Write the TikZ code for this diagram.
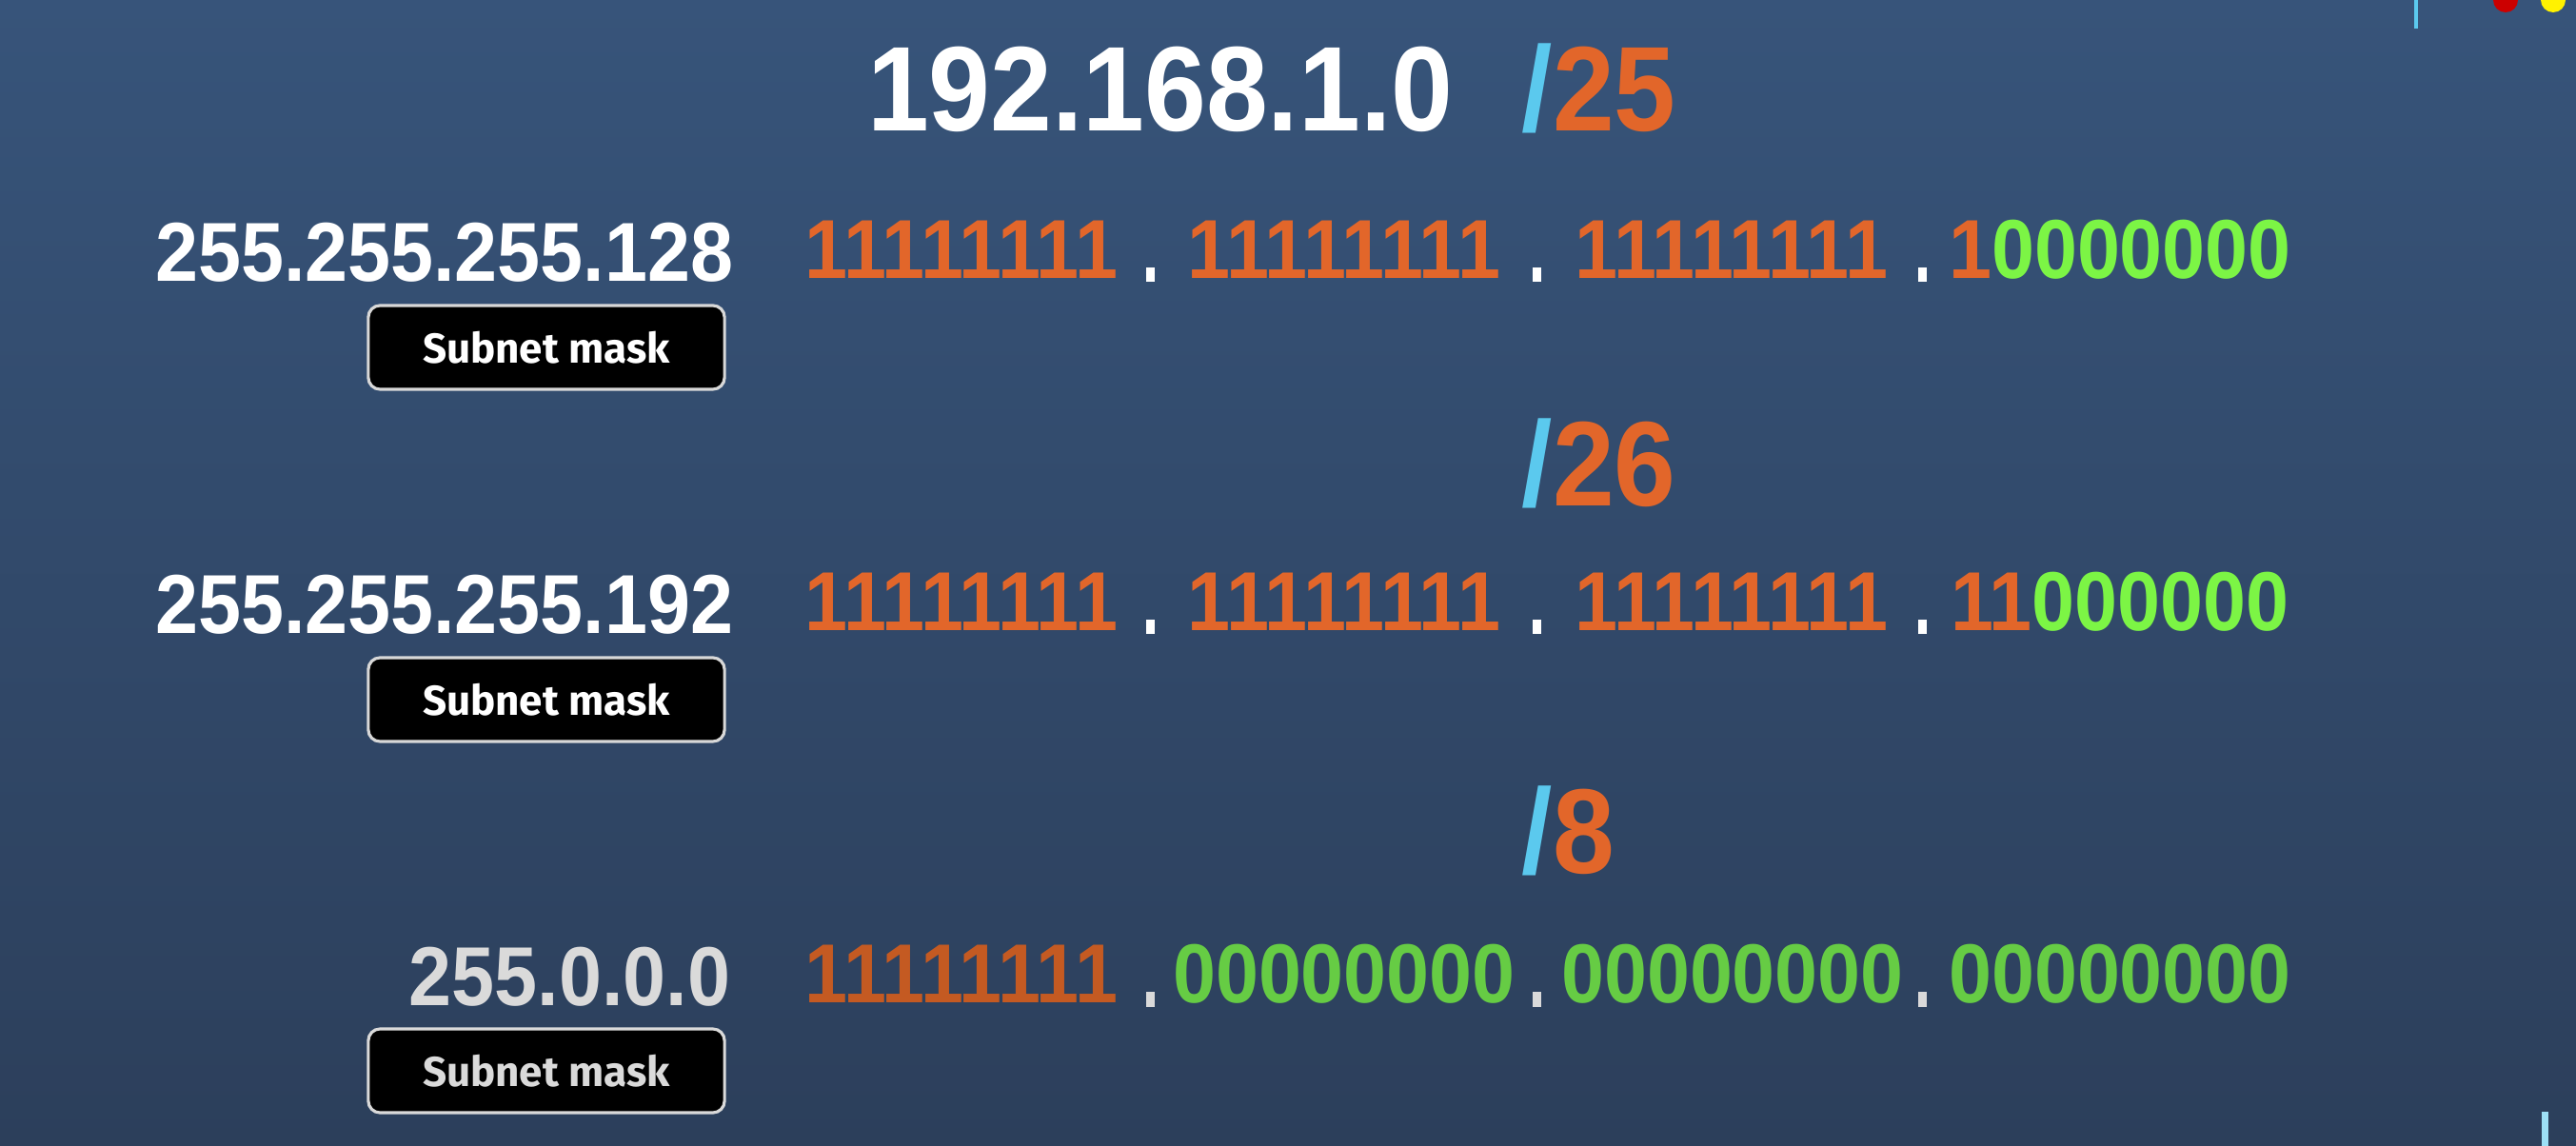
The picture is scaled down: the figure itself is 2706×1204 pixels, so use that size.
\documentclass[tikz,border=0pt]{standalone}
\usepackage{fontspec}
\setmainfont{Liberation Sans}[FakeStretch=0.92]
\newfontfamily\tagfont{Fira Sans}
\definecolor{bgtop}{HTML}{37547A}
\definecolor{bgbot}{HTML}{2C3F5B}
\definecolor{bitone}{HTML}{E2662A}
\definecolor{bitzero}{HTML}{7CF545}
\definecolor{dimone}{HTML}{C45A22}
\definecolor{dimzero}{HTML}{66CC44}
\definecolor{slashblue}{HTML}{5BC9EE}
\definecolor{dimgray}{HTML}{DADADA}
\definecolor{tagline}{HTML}{D8D8D8}
\begin{document}
\begin{tikzpicture}[x=0.01cm,y=-0.01cm,
  mask/.style={anchor=base east,inner sep=0pt,text=white,font=\fontsize{25}{25}\selectfont\bfseries},
  bits/.style={anchor=base,inner sep=0pt,font=\fontsize{25}{25}\selectfont\bfseries},
  cidr/.style={anchor=base west,inner sep=0pt,font=\fontsize{36}{36}\selectfont\bfseries},
  dotbox/.style={fill=white,inner sep=0pt,minimum width=0.09cm,minimum height=0.15cm},
  tag/.style={draw=tagline,line width=0.9pt,fill=black,rounded corners=3.5pt,
    minimum width=3.74cm,minimum height=0.88cm,text=white,font=\tagfont\fontsize{12.5}{12.5}\selectfont\bfseries}]
\shade[top color=bgtop,bottom color=bgbot] (0,0) rectangle (2706,1204);
\useasboundingbox (0,0) rectangle (2706,1204);
% cut-off pieces at the edges
\draw[slashblue,line width=1pt] (2538,0) -- (2538,30);
\fill[red!80!black] (2632,0) circle (13);
\fill[yellow] (2682,0) circle (13);
\draw[slashblue!60,fill=black!70,line width=1pt] (2672,1204) -- (2672,1170) -- (2675,1170) -- (2675,1204);

% network and prefixes
\node[cidr,anchor=base east,text=white] (net) at (1527,138) {192.168.1.0};
\node[cidr] (p25) at (1598,138) {\textcolor{slashblue}{/}\textcolor{bitone}{25}};
\node[cidr] (p26) at (1598,532) {\textcolor{slashblue}{/}\textcolor{bitone}{26}};
\node[cidr] (p8) at (1598,918) {\textcolor{slashblue}{/}\textcolor{bitone}{8}};

% row 1
\node[mask] (m1) at (771,296) {255.255.255.128};
\node[tag] (t1) at (574,365) {Subnet mask};
\node[bits,text=bitone] (a1) at (1010,293) {11111111};
\node[bits,text=bitone] (a2) at (1412,293) {11111111};
\node[bits,text=bitone] (a3) at (1819,293) {11111111};
\node[bits,text=bitzero] (a4) at (2227,293) {\textcolor{bitone}{1}0000000};
\node[dotbox] (ad1) at (1208,289) {};
\node[dotbox] (ad2) at (1614,289) {};
\node[dotbox] (ad3) at (2019,289) {};

% row 2
\node[mask] (m2) at (771,666) {255.255.255.192};
\node[tag] (t2) at (574,735) {Subnet mask};
\node[bits,text=bitone] (b1) at (1010,663) {11111111};
\node[bits,text=bitone] (b2) at (1412,663) {11111111};
\node[bits,text=bitone] (b3) at (1819,663) {11111111};
\node[bits,text=bitzero] (b4) at (2227,663) {\textcolor{bitone}{11}000000};
\node[dotbox] (bd1) at (1208,659) {};
\node[dotbox] (bd2) at (1614,659) {};
\node[dotbox] (bd3) at (2019,659) {};

% row 3
\node[mask,text=dimgray] (m3) at (768,1056) {255.0.0.0};
\node[tag,draw=dimgray,text=dimgray] (t3) at (574,1125) {Subnet mask};
\node[bits,text=dimone] (c1) at (1010,1054) {11111111};
\node[bits,text=dimzero] (c2) at (1412,1054) {00000000};
\node[bits,text=dimzero] (c3) at (1820,1054) {00000000};
\node[bits,text=dimzero] (c4) at (2227,1054) {00000000};
\node[dotbox,fill=dimgray] (cd1) at (1208,1050) {};
\node[dotbox,fill=dimgray] (cd2) at (1614,1050) {};
\node[dotbox,fill=dimgray] (cd3) at (2019,1050) {};
\end{tikzpicture}
\end{document}
